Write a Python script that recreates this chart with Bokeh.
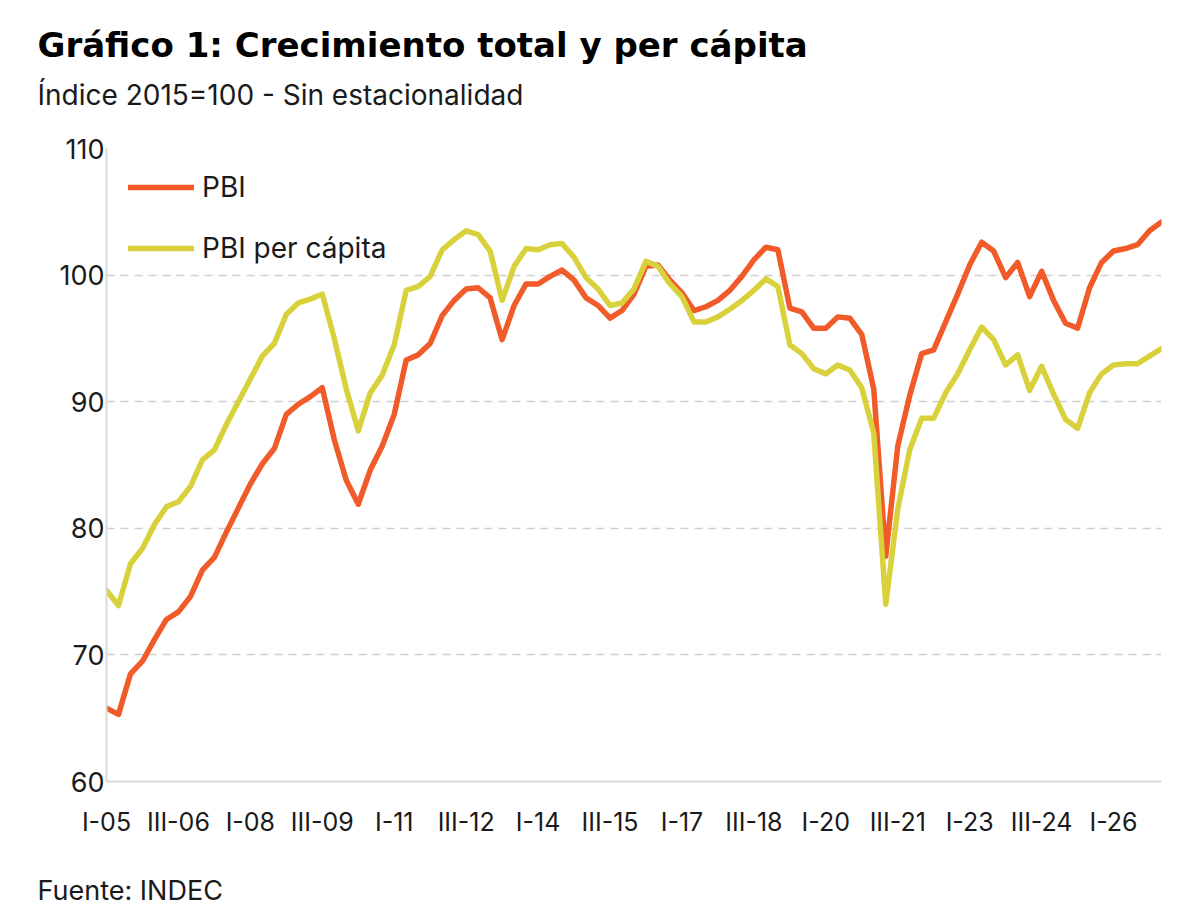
from bokeh.plotting import figure
from bokeh.models import Range1d, Legend, LegendItem, Title, FixedTicker
from bokeh.embed import file_html
from bokeh.resources import INLINE

# ---- data (quarterly index, 2015=100, seasonally adjusted) ----
pbi = [65.8, 65.3, 68.5, 69.5, 71.2, 72.8, 73.4, 74.6, 76.7, 77.7,
       79.7, 81.6, 83.5, 85.1, 86.3, 89.0, 89.8, 90.4, 91.1, 87.0,
       83.8, 81.9, 84.6, 86.5, 89.0, 93.3, 93.7, 94.6, 96.8, 98.0,
       98.9, 99.0, 98.2, 94.9, 97.6, 99.3, 99.3, 99.9, 100.4, 99.6,
       98.2, 97.6, 96.6, 97.2, 98.5, 100.7, 100.8, 99.6, 98.6, 97.2,
       97.5, 98.0, 98.8, 99.9, 101.2, 102.2, 102.0, 97.4, 97.1, 95.8,
       95.8, 96.7, 96.6, 95.3, 91.0, 77.8, 86.5, 90.5, 93.8, 94.1,
       96.3, 98.5, 100.8, 102.6, 101.9, 99.8, 101.0, 98.3, 100.3, 98.0,
       96.2, 95.8, 99.0, 101.0, 101.9, 102.1, 102.4, 103.5, 104.2]

pbi_pc = [75.1, 73.9, 77.2, 78.4, 80.3, 81.7, 82.1, 83.3, 85.4, 86.2,
          88.2, 90.0, 91.8, 93.6, 94.6, 96.9, 97.8, 98.1, 98.5, 95.0,
          91.0, 87.7, 90.7, 92.1, 94.5, 98.8, 99.1, 99.9, 102.0, 102.8,
          103.5, 103.2, 101.9, 98.0, 100.7, 102.1, 102.0, 102.4, 102.5, 101.4,
          99.8, 98.9, 97.6, 97.8, 98.9, 101.1, 100.7, 99.3, 98.3, 96.3,
          96.3, 96.7, 97.3, 98.0, 98.8, 99.7, 99.1, 94.5, 93.8, 92.6,
          92.2, 92.9, 92.5, 91.1, 87.5, 74.0, 81.5, 86.2, 88.7, 88.7,
          90.7, 92.2, 94.1, 95.9, 94.9, 92.9, 93.7, 90.9, 92.8, 90.6,
          88.6, 87.9, 90.7, 92.2, 92.9, 93.0, 93.0, 93.6, 94.2]

tick_labels = ["I-05", "III-06", "I-08", "III-09", "I-11", "III-12", "I-14",
               "III-15", "I-17", "III-18", "I-20", "III-21", "I-23", "III-24", "I-26"]
tick_step = 6
y_ticks = [60, 70, 80, 90, 100, 110]

title_text = "Gráfico 1: Crecimiento total y per cápita"
subtitle_text = "Índice 2015=100 - Sin estacionalidad"
source_text = "Fuente: INDEC"

x = list(range(len(pbi)))
tick_pos = [i * tick_step for i in range(len(tick_labels))]

ORANGE = "#F15A29"
YELLOW = "#D9D13B"
FONT = "Inter"
TITLE_FONT = "DejaVu Sans"
TEXT = "#1a1a1a"

p = figure(width=1190, height=920, output_backend="svg", toolbar_location=None,
           title=None,
           x_range=Range1d(0, len(pbi) - 1), y_range=Range1d(60, 110),
           min_border_left=106, min_border_right=29, min_border_top=148,
           min_border_bottom=139)
p.outline_line_color = None
p.background_fill_color = "white"

r1 = p.line(x, pbi, line_color=ORANGE, line_width=5.5, line_join="round", line_cap="round")
r2 = p.line(x, pbi_pc, line_color=YELLOW, line_width=5.5, line_join="round", line_cap="round")

# axes
p.xaxis.ticker = FixedTicker(ticks=tick_pos)
p.xaxis.major_label_overrides = {t: l for t, l in zip(tick_pos, tick_labels)}
p.xaxis.major_tick_line_color = None
p.xaxis.major_tick_out = 0
p.xaxis.major_tick_in = 0
p.xaxis.minor_tick_line_color = None
p.xaxis.axis_line_color = "#D9D9D9"
p.xaxis.axis_line_width = 2
p.xaxis.major_label_text_font = FONT
p.xaxis.major_label_text_font_size = "25px"
p.xaxis.major_label_text_color = TEXT
p.xaxis.major_label_standoff = 25

p.yaxis.ticker = FixedTicker(ticks=y_ticks)
p.yaxis.major_tick_line_color = None
p.yaxis.major_tick_out = 0
p.yaxis.major_tick_in = 0
p.yaxis.minor_tick_line_color = None
p.yaxis.axis_line_color = "#D9D9D9"
p.yaxis.axis_line_width = 2
p.yaxis.major_label_text_font = FONT
p.yaxis.major_label_text_font_size = "27px"
p.yaxis.major_label_text_color = TEXT
p.yaxis.major_label_standoff = 2

p.xgrid.grid_line_color = None
p.ygrid.ticker = FixedTicker(ticks=y_ticks[1:])
p.ygrid.grid_line_color = "#CFCFCF"
p.ygrid.grid_line_width = 1.5
p.ygrid.grid_line_dash = "8 6"

# legend
legend = Legend(items=[LegendItem(label="PBI", renderers=[r1]),
                       LegendItem(label="PBI per cápita", renderers=[r2])],
                location="top_left", orientation="vertical",
                margin=10, padding=12, spacing=27,
                glyph_width=66, glyph_height=12, label_height=12,
                label_standoff=8, border_line_alpha=0, background_fill_alpha=0,
                label_text_font=FONT, label_text_font_size="28px",
                label_text_color=TEXT)
p.add_layout(legend, "center")

# titles: spacer (closest to frame), subtitle, then main title
p.add_layout(Title(text=" ", text_font_size="1px", standoff=22), "above")
p.add_layout(Title(text=subtitle_text, align="left", offset=-69, standoff=23,
                   text_font=FONT, text_font_size="28px", text_font_style="normal",
                   text_color=TEXT), "above")
p.add_layout(Title(text=title_text, align="left", offset=-69, standoff=0,
                   text_font=TITLE_FONT, text_font_size="34px", text_font_style="bold",
                   text_color="#000000"), "above")
# below: spacer after the axis, then the source note
p.add_layout(Title(text=" ", text_font_size="1px", standoff=15), "below")
p.add_layout(Title(text=source_text, align="left", offset=-69, standoff=28,
                   text_font=FONT, text_font_size="27px", text_font_style="normal",
                   text_color=TEXT), "below")

open("out.html", "w").write(file_html(p, INLINE))
